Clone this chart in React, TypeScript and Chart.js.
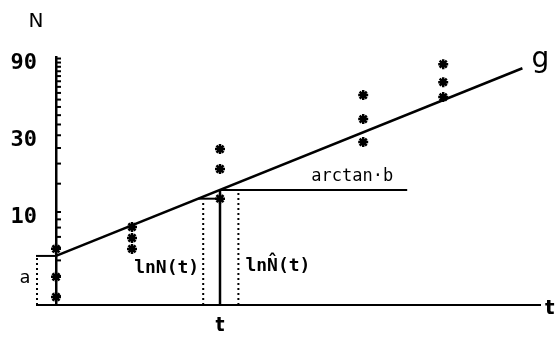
import React, { useEffect, useRef } from "react";
import { Chart, registerables } from "chart.js";

Chart.register(...registerables);

// ---- data ----
const sampleTimes = [0, 0, 0, 0.95, 0.95, 0.95, 2.05, 2.05, 2.05, 3.84, 3.84, 3.84, 4.84, 4.84, 4.84];
const observedN = [5.9, 3.95, 2.96, 8.07, 6.89, 5.89, 24.6, 18.5, 12.1, 53.3, 37.8, 27.2, 83.0, 64.2, 51.8];
const regressionTimes = [0, 5.83];
const regressionN = [5.33, 78.3];
const yTickValues = [3, 4, 5, 6, 7, 8, 9, 10, 15, 20, 25, 30, 35, 40, 45, 50, 55, 60, 65, 70, 75, 80, 85, 90];
const yLabelValues = [10, 30, 90];
const markT = 2.05;
const markObservedN = 12.1;
const xMin = 0;
const xMax = 6.05;
const yMin = 2.64;
const yMax = 92;

// annotation anchors (time units)
const aBracketT = -0.25;
const lnNT = markT - 0.21;
const lnNHatT = markT + 0.23;
const arctanEndT = 4.39;

const MONO = '"DejaVu Sans Mono", monospace';
const SANS = '"DejaVu Sans", sans-serif';

function gAt(t: number) {
  const l0 = Math.log10(regressionN[0]);
  const l1 = Math.log10(regressionN[1]);
  const f = (t - regressionTimes[0]) / (regressionTimes[1] - regressionTimes[0]);
  return Math.pow(10, l0 + (l1 - l0) * f);
}
function tAtG(v: number) {
  const l0 = Math.log10(regressionN[0]);
  const l1 = Math.log10(regressionN[1]);
  return regressionTimes[0] + ((Math.log10(v) - l0) / (l1 - l0)) * (regressionTimes[1] - regressionTimes[0]);
}

const annotationPlugin = {
  id: "annot",
  beforeDraw(chart: any) {
    const { ctx, width, height } = chart;
    ctx.save();
    ctx.fillStyle = "#fff";
    ctx.fillRect(0, 0, width, height);
    ctx.restore();
  },
  beforeDatasetsDraw(chart: any) {
    const { ctx, chartArea } = chart;
    const x = chart.scales.x;
    const y = chart.scales.y;
    const px = (t: number) => x.getPixelForValue(t);
    const py = (v: number) => y.getPixelForValue(v);
    const line = (x1: number, y1: number, x2: number, y2: number) => {
      ctx.beginPath();
      ctx.moveTo(x1, y1);
      ctx.lineTo(x2, y2);
      ctx.stroke();
    };
    ctx.save();
    ctx.strokeStyle = "#000";
    ctx.lineWidth = 2;
    ctx.lineCap = "butt";
    const bottom = chartArea.bottom;
    // x-axis extension to the left of the N axis
    line(px(aBracketT), bottom, chartArea.left, bottom);
    // inward tick marks on N axis
    y.ticks.forEach((tk: any) => {
      const yy = py(tk.value);
      line(chartArea.left, yy, chartArea.left + 5, yy);
    });
    // "a" bracket
    const g0 = py(gAt(0));
    line(px(aBracketT), g0, chartArea.left, g0);
    // solid vertical at t
    const gMark = py(gAt(markT));
    ctx.lineWidth = 2.5;
    line(px(markT), bottom, px(markT), gMark);
    ctx.lineWidth = 2;
    // arctan horizontal
    line(px(markT), gMark, px(arctanEndT), gMark);
    // short horizontal at observed level
    const obs = py(markObservedN);
    line(px(tAtG(markObservedN)), obs, px(markT), obs);
    // dotted verticals
    ctx.setLineDash([2, 3]);
    line(px(aBracketT) + 1, bottom, px(aBracketT) + 1, g0 + 2);
    line(px(lnNT), bottom, px(lnNT), obs + 2);
    line(px(lnNHatT), bottom, px(lnNHatT), gMark + 2);
    ctx.restore();
  },
  afterDraw(chart: any) {
    const { ctx } = chart;
    const x = chart.scales.x;
    const y = chart.scales.y;
    const px = (t: number) => x.getPixelForValue(t);
    const py = (v: number) => y.getPixelForValue(v);
    ctx.save();
    ctx.fillStyle = "#000";
    ctx.textBaseline = "middle";
    // N
    ctx.font = `20px ${SANS}`;
    ctx.textAlign = "center";
    ctx.fillText("N", 36, 22);
    // a
    ctx.font = `18px ${MONO}`;
    ctx.fillText("a", 25, 278);
    // lnN(t)
    ctx.font = `bold 18px ${MONO}`;
    ctx.textAlign = "right";
    ctx.fillText("lnN(t)", px(lnNT) - 4, 268);
    // lnN̂(t)
    ctx.textAlign = "left";
    ctx.fillText("lnN\u0302(t)", px(lnNHatT) + 7, 266);
    // arctan·b
    ctx.font = `17px ${MONO}`;
    ctx.textAlign = "center";
    ctx.fillText("arctan\u00b7b", px(arctanEndT) - 55, py(gAt(markT)) - 13);
    // g
    ctx.font = `28px ${SANS}`;
    ctx.textAlign = "left";
    ctx.textBaseline = "alphabetic";
    ctx.fillText("g", px(regressionTimes[1]) + 9, py(regressionN[1]) - 1);
    // t at axis end
    ctx.font = `bold 20px ${SANS}`;
    ctx.textBaseline = "middle";
    ctx.fillText("t", x.right + 5, chart.chartArea.bottom + 4);
    ctx.restore();
  },
};

export default function App() {
  const ref = useRef<HTMLCanvasElement | null>(null);
  useEffect(() => {
    if (!ref.current) return;
    const chart = new Chart(ref.current, {
      type: "scatter",
      data: {
        datasets: [
          {
            type: "line",
            data: regressionTimes.map((t, i) => ({ x: t, y: regressionN[i] })),
            borderColor: "#000",
            borderWidth: 2.5,
            pointRadius: 0,
            fill: false,
            clip: false,
            order: 2,
          } as any,
          {
            type: "scatter",
            data: sampleTimes.map((t, i) => ({ x: t, y: observedN[i] })),
            pointStyle: "star",
            pointRadius: 5,
            borderWidth: 2.5,
            borderColor: "#000",
            backgroundColor: "#000",
            clip: false,
            order: 1,
          } as any,
        ],
      },
      options: {
        responsive: false,
        animation: false,
        events: [],
        layout: { padding: { top: 57, right: 19, bottom: 0, left: 0 } },
        plugins: { legend: { display: false }, tooltip: { enabled: false } },
        scales: {
          x: {
            type: "linear",
            min: xMin,
            max: xMax,
            grid: { display: true, drawOnChartArea: false, drawTicks: false },
            border: { display: true, color: "#000", width: 2 },
            afterBuildTicks: (s: any) => {
              s.ticks = [{ value: markT }];
            },
            afterFit: (s: any) => {
              s.height = 40;
            },
            ticks: {
              autoSkip: false,
              padding: 10,
              color: "#000",
              font: { family: "DejaVu Sans", size: 19, weight: "bold" },
              callback: () => "t",
            },
          },
          y: {
            type: "logarithmic",
            min: yMin,
            max: yMax,
            grid: { display: true, drawOnChartArea: false, drawTicks: false },
            border: { display: true, color: "#000", width: 2.5 },
            afterBuildTicks: (s: any) => {
              s.ticks = yTickValues.map((v) => ({ value: v }));
            },
            afterFit: (s: any) => {
              s.width = 56;
            },
            ticks: {
              autoSkip: false,
              padding: 19,
              labelOffset: 5,
              color: "#000",
              font: { family: "DejaVu Sans Mono", size: 22, weight: "bold" },
              callback: (v: any) => (yLabelValues.includes(Number(v)) ? String(v) : ""),
            },
          },
        },
      },
      plugins: [annotationPlugin],
    });
    return () => chart.destroy();
  }, []);
  return (
    <div style={{ position: "fixed", left: 0, top: 0, width: 559, height: 345, background: "#fff" }}>
      <canvas ref={ref} width={559} height={345} style={{ width: 559, height: 345, display: "block" }} />
    </div>
  );
}
